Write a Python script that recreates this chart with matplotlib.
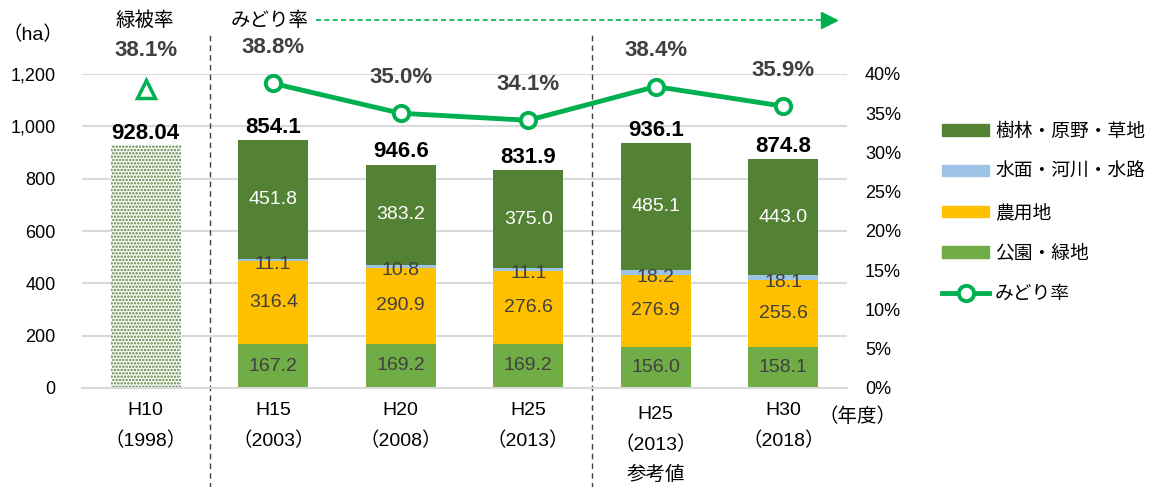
import matplotlib.pyplot as plt
import matplotlib.transforms as mtransforms
from matplotlib.lines import Line2D
from matplotlib.patches import Patch

# データ
categories = ['H10\n（1998）', 'H15\n（2003）', 'H20\n（2008）', 'H25\n（2013）',
              'H25\n（2013）\n参考値', 'H30\n（2018）']
h10_total = 928.04
h10_rate = 38.1
koen = [167.2, 169.2, 169.2, 156.0, 158.1]       # 公園・緑地
nouyou = [316.4, 290.9, 276.6, 276.9, 255.6]     # 農用地
suimen = [11.1, 10.8, 11.1, 18.2, 18.1]          # 水面・河川・水路
jurin = [451.8, 383.2, 375.0, 485.1, 443.0]      # 樹林・原野・草地
total_labels = ['854.1', '946.6', '831.9', '936.1', '874.8']
midori = [38.8, 35.0, 34.1, 38.4, 35.9]          # みどり率 (%)

c_jurin = '#548235'
c_suimen = '#9DC3E6'
c_nouyou = '#FFC000'
c_koen = '#70AD47'
c_line = '#00B050'
c_text = '#404040'

SANS = ['Liberation Sans', 'Noto Sans CJK JP']
CJK = ['Noto Sans CJK JP', 'DejaVu Sans']
plt.rcParams['font.family'] = SANS
plt.rcParams['hatch.color'] = c_jurin
plt.rcParams['hatch.linewidth'] = 1.2

fig = plt.figure(figsize=(11.58, 4.87), dpi=100)
ax = fig.add_axes([82 / 1158, 99 / 487, 765 / 1158, 314 / 487])
ax2 = ax.twinx()

x = list(range(len(categories)))
xs = x[1:]
w = 0.55

# H10 (ドット柄)
ax.bar(0, h10_total, w, color='white', edgecolor=c_jurin, hatch='.....', linewidth=0, zorder=2)
ax.text(0, h10_total + 6, f'{h10_total:.2f}', ha='center', va='bottom', fontsize=16,
        fontweight='bold', color='black')

bottom = [0] * 5
series = [(koen, c_koen, c_text), (nouyou, c_nouyou, c_text),
          (suimen, c_suimen, c_text), (jurin, c_jurin, 'white')]
for vals, col, tcol in series:
    ax.bar(xs, vals, w, bottom=bottom, color=col, zorder=2)
    for xi, v, b in zip(xs, vals, bottom):
        yy = b + v / 2
        if vals is suimen:
            yy = b - 10
        ax.text(xi, yy, f'{v:.1f}', ha='center', va='center', fontsize=14,
                color=tcol, zorder=3)
    bottom = [b + v for b, v in zip(bottom, vals)]

for xi, b, lab in zip(xs, bottom, total_labels):
    ax.text(xi, b + 8, lab, ha='center', va='bottom', fontsize=16,
            fontweight='bold', color='black')

ax.set_xlim(-0.5, len(categories) - 0.5)
ax.set_ylim(0, 1200)
ax.set_yticks(range(0, 1201, 200))
ax.set_yticklabels([f'{v:,}' for v in range(0, 1201, 200)], fontsize=13)
ax.grid(axis='y', color='#D9D9D9', linewidth=1.5, zorder=0)
ax.set_axisbelow(True)
ax.tick_params(axis='y', length=0, pad=19)
ax.tick_params(axis='x', length=0, pad=10)
ax.set_xticks(x)
ax.set_xticklabels(categories, fontsize=14, linespacing=1.85, va='top')
ref_lab = ax.get_xticklabels()[4]
ref_lab.set_transform(ref_lab.get_transform() +
                      mtransforms.ScaledTranslation(0, -4 / 100, fig.dpi_scale_trans))
for s in ['top', 'right', 'left']:
    ax.spines[s].set_visible(False)
    ax2.spines[s].set_visible(False)
ax.spines['bottom'].set_color('#D9D9D9')
ax.spines['bottom'].set_linewidth(1.5)
ax2.spines['bottom'].set_visible(False)

# みどり率
ax2.set_ylim(0, 40)
ax2.set_yticks(range(0, 41, 5))
ax2.set_yticklabels([f'{v}%' for v in range(0, 41, 5)], fontsize=13)
ax2.tick_params(axis='y', length=0, pad=13)
ax2.plot(xs, midori, color=c_line, linewidth=3.5, marker='o', markersize=11,
         markerfacecolor='white', markeredgewidth=2.8, zorder=5)
for xi, v in zip(xs, midori):
    ax2.annotate(f'{v:.1f}%', (xi, v), xytext=(0, 26), textcoords='offset points',
                 ha='center', va='center', fontsize=16, fontweight='bold', color=c_text)
ax2.plot([0], [h10_rate], linestyle='none', marker='^', markersize=13,
         markerfacecolor='white', markeredgecolor=c_line, markeredgewidth=2.5, zorder=5)
ax2.annotate(f'{h10_rate:.1f}%', (0, h10_rate), xytext=(0, 28), textcoords='offset points',
             ha='center', va='center', fontsize=16, fontweight='bold', color=c_text)

# 区切り線
trans = mtransforms.blended_transform_factory(ax.transData, ax.transAxes)
for xv in [0.5, 3.5]:
    ax.add_line(Line2D([xv, xv], [-0.32, 1.135], transform=trans, color='#404040',
                       linewidth=1, linestyle=(0, (4, 3)), clip_on=False))

# 上部の見出し
fig.text(145 / 1158, 1 - 20 / 487, '緑被率', ha='center', va='center', fontsize=14, family=CJK)
fig.text(270 / 1158, 1 - 20 / 487, 'みどり率', ha='center', va='center', fontsize=14, family=CJK)
fig.add_artist(Line2D([316 / 1158, 826 / 1158], [1 - 20 / 487, 1 - 20 / 487],
                      color=c_line, linewidth=1.2, linestyle=(0, (3, 2))))
fig.add_artist(Line2D([829 / 1158], [1 - 20 / 487], marker='>', markersize=11,
                      color=c_line, linestyle='none'))
fig.text(33 / 1158, 1 - 35 / 487, '（ha）', ha='center', va='center', fontsize=14)
fig.text(858 / 1158, 1 - 417 / 487, '（年度）', ha='center', va='center', fontsize=14)

# 凡例
handles = [Patch(color=c_jurin), Patch(color=c_suimen), Patch(color=c_nouyou),
           Patch(color=c_koen),
           Line2D([], [], color=c_line, linewidth=3.5, marker='o', markersize=11,
                  markerfacecolor='white', markeredgewidth=2.8)]
labels = ['樹林・原野・草地', '水面・河川・水路', '農用地', '公園・緑地', 'みどり率']
fig.legend(handles, labels, loc='upper left', bbox_to_anchor=(935 / 1158, 1 - 113 / 487),
           frameon=False, prop={'family': CJK, 'size': 13.5}, handlelength=2.5,
           handleheight=0.55, handletextpad=0.3, labelspacing=1.05, borderaxespad=0)

fig.savefig('out.png', dpi=100)
